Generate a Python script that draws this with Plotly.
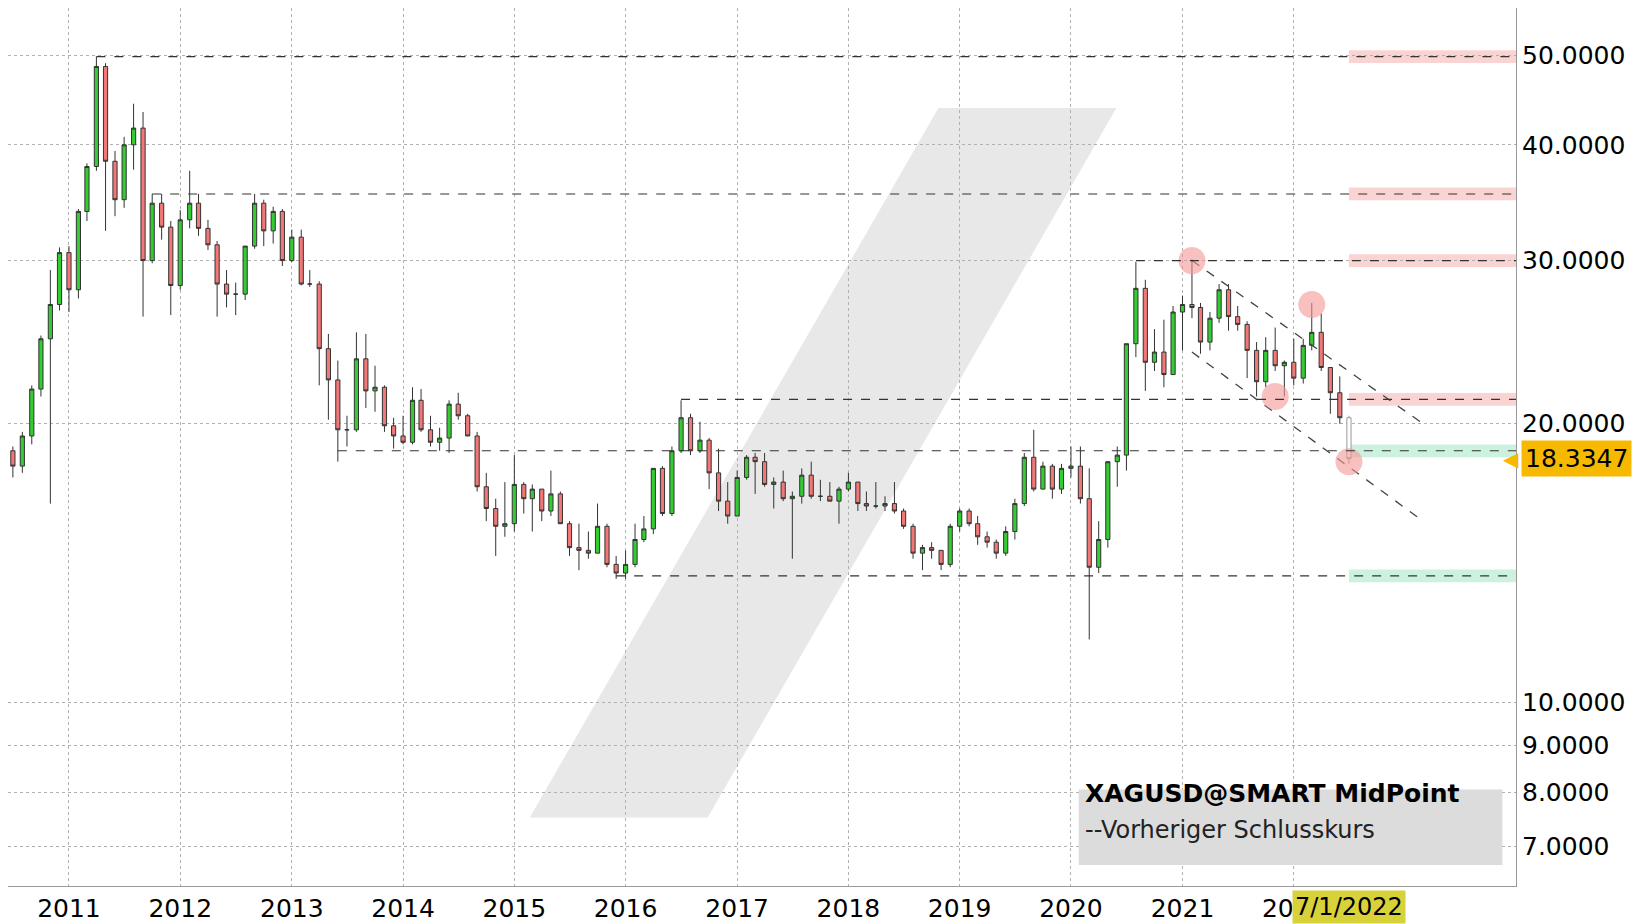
import numpy as np
import pandas as pd
import plotly.graph_objects as go

# monthly OHLC, XAGUSD, Jul 2010 .. Jul 2022
opens = [18.7, 18.0, 19.4, 21.8, 24.7, 26.9,
         30.6, 27.9, 33.9, 37.9, 48.6, 38.4, 34.9, 40.0, 41.7, 30.0, 34.6, 32.6,
         28.2, 33.2, 34.6, 32.5, 31.2, 28.3, 27.6, 27.6, 31.1, 34.6, 32.3, 33.9,
         30.0, 31.8, 28.3, 28.3, 24.1, 22.3, 19.7, 19.7, 23.5, 21.7, 21.9, 19.9,
         19.4, 19.1, 21.2, 19.7, 19.1, 19.3, 21.0, 20.4, 19.4, 17.1, 16.2, 15.5,
         15.6, 17.2, 16.6, 17.0, 16.1, 16.8, 15.6, 14.7, 14.6, 14.5, 15.5, 14.1,
         13.8, 14.1, 15.0, 15.4, 17.9, 16.0, 18.7, 20.3, 18.7, 19.2, 17.7, 16.5,
         15.9, 17.5, 18.4, 18.2, 17.2, 17.3, 16.6, 16.7, 17.6, 16.7, 16.7, 16.5,
         17.0, 17.3, 16.4, 16.3, 16.3, 16.4, 16.1, 15.5, 14.5, 14.7, 14.6, 14.1,
         15.5, 16.1, 15.6, 15.1, 14.9, 14.5, 15.3, 16.4, 18.4, 17.0, 18.0, 17.0,
         17.9, 18.0, 16.6, 14.0, 15.0, 18.2, 18.5, 24.4, 28.0, 23.3, 23.9, 22.6,
         26.4, 26.9, 26.7, 24.5, 26.0, 27.9, 26.1, 25.6, 24.0, 22.2, 24.0, 23.1,
         23.3, 22.4, 24.3, 25.1, 23.0, 21.6, 20.3]
highs = [18.9, 19.6, 22.0, 24.9, 29.3, 31.0,
         31.1, 34.1, 38.2, 49.8, 49.0, 39.4, 40.8, 44.3, 43.4, 35.4, 35.4, 33.1,
         34.0, 37.5, 35.4, 33.2, 31.5, 29.3, 28.4, 31.1, 35.4, 34.9, 34.3, 34.1,
         32.4, 32.4, 29.3, 28.5, 25.0, 23.4, 20.4, 25.1, 25.0, 23.1, 22.0, 20.3,
         20.4, 21.9, 21.8, 20.4, 19.8, 21.2, 21.6, 20.5, 19.6, 17.7, 16.6, 17.3,
         18.5, 17.3, 17.2, 17.0, 17.8, 16.9, 15.7, 15.6, 15.3, 16.4, 15.6, 14.4,
         14.6, 15.6, 15.9, 17.9, 18.0, 18.9, 21.2, 20.5, 20.1, 19.3, 18.8, 17.3,
         17.8, 18.5, 18.6, 18.6, 17.5, 17.8, 16.9, 17.9, 18.2, 17.4, 17.3, 17.1,
         17.7, 17.3, 16.9, 17.3, 16.7, 17.3, 16.2, 15.6, 14.8, 14.9, 14.6, 15.6,
         16.2, 16.2, 15.9, 15.3, 15.0, 15.5, 16.6, 18.6, 19.7, 18.2, 18.1, 18.1,
         18.9, 18.9, 17.9, 15.7, 18.2, 18.9, 24.4, 29.9, 28.6, 25.3, 25.9, 26.8,
         27.5, 30.1, 27.0, 26.4, 28.3, 28.3, 26.8, 25.8, 24.5, 24.8, 25.4, 23.4,
         24.7, 24.7, 27.0, 26.3, 23.0, 22.5, 20.4]
lows = [17.5, 17.7, 19.0, 21.4, 16.4, 26.5,
        26.4, 27.3, 33.1, 37.5, 32.3, 33.5, 34.2, 37.6, 26.1, 29.8, 31.6, 26.2,
        27.9, 32.5, 31.9, 30.8, 26.1, 26.7, 26.2, 27.2, 30.9, 31.1, 31.3, 29.6,
        29.9, 28.2, 28.1, 22.0, 20.2, 18.2, 18.9, 19.6, 20.8, 20.6, 19.6, 18.8,
        19.0, 19.0, 19.6, 18.9, 18.7, 18.6, 20.2, 19.4, 16.9, 15.7, 14.4, 15.1,
        15.3, 16.0, 15.3, 15.7, 15.9, 15.6, 14.4, 13.9, 14.3, 14.5, 14.0, 13.6,
        13.6, 14.0, 14.9, 15.2, 15.9, 15.9, 18.6, 18.5, 18.6, 17.0, 16.1, 15.6,
        15.9, 17.4, 16.8, 17.1, 16.2, 16.5, 14.3, 16.4, 16.6, 16.5, 16.5, 15.6,
        16.9, 16.1, 16.1, 16.2, 16.1, 16.0, 15.4, 14.3, 13.9, 14.3, 13.9, 14.0,
        15.3, 15.5, 14.8, 14.7, 14.3, 14.4, 15.0, 16.3, 16.9, 17.0, 16.6, 16.8,
        17.5, 16.4, 11.7, 13.8, 14.7, 17.1, 17.8, 23.6, 21.7, 22.8, 21.9, 22.6,
        24.0, 26.0, 23.8, 24.0, 25.7, 25.2, 25.2, 22.4, 21.4, 21.9, 22.8, 21.4,
        22.0, 22.1, 24.0, 22.8, 20.5, 20.0, 18.1]
closes = [18.0, 19.4, 21.8, 24.7, 26.9, 30.6,
          27.9, 33.9, 37.9, 48.6, 38.4, 34.9, 40.0, 41.7, 30.0, 34.6, 32.6, 28.2,
          33.2, 34.6, 32.5, 31.2, 28.3, 27.6, 27.6, 31.1, 34.6, 32.3, 33.9, 30.0,
          31.8, 28.3, 28.3, 24.1, 22.3, 19.7, 19.7, 23.5, 21.7, 21.9, 19.9, 19.4,
          19.1, 21.2, 19.7, 19.1, 19.3, 21.0, 20.4, 19.4, 17.1, 16.2, 15.5, 15.6,
          17.2, 16.6, 17.0, 16.1, 16.8, 15.6, 14.7, 14.6, 14.5, 15.5, 14.1, 13.8,
          14.1, 15.0, 15.4, 17.9, 16.0, 18.7, 20.3, 18.7, 19.2, 17.7, 16.5, 15.9,
          17.5, 18.4, 18.2, 17.2, 17.3, 16.6, 16.7, 17.6, 16.7, 16.7, 16.5, 17.0,
          17.3, 16.4, 16.3, 16.3, 16.4, 16.1, 15.5, 14.5, 14.7, 14.6, 14.1, 15.5,
          16.1, 15.6, 15.1, 14.9, 14.5, 15.3, 16.4, 18.4, 17.0, 18.0, 17.0, 17.9,
          18.0, 16.6, 14.0, 15.0, 18.2, 18.5, 24.4, 28.0, 23.3, 23.9, 22.6, 26.4,
          26.9, 26.7, 24.5, 26.0, 27.9, 26.1, 25.6, 24.0, 22.2, 24.0, 23.1, 23.3,
          22.4, 24.3, 25.1, 23.0, 21.6, 20.3, 18.3347]
dates = pd.date_range("2010-07-01", periods=len(closes), freq="MS")

# horizontal support / resistance levels: (start date, value)
level_starts = ["2011-04-01", "2011-10-01", "2020-08-01", "2016-07-01", "2013-06-01", "2015-12-01"]
level_values = [49.8, 35.4, 30.0, 21.25, 18.7, 13.7]
band_colors = ["red", "red", "red", "red", "green", "green"]

# descending channel
chan_dates = ["2021-02-01", "2023-03-01"]
chan_upper = [30.0, 20.0]
chan_lower = [23.9, 15.7]

# highlighted pivots
pivot_dates = ["2021-02-01", "2022-03-01", "2021-11-01", "2022-07-01"]
pivot_values = [30.0, 26.9, 21.4, 18.2]

y_ticks = [7, 8, 9, 10, 20, 30, 40, 50]
year_ticks = [f"{y}-01-01" for y in range(2011, 2023)]
year_labels = [str(y) for y in range(2011, 2023)]

X_END = "2023-12-31"
FONT = "DejaVu Sans"

fig = go.Figure()

fig.add_trace(go.Candlestick(
    x=dates[:-1], open=opens[:-1], high=highs[:-1], low=lows[:-1], close=closes[:-1],
    increasing=dict(fillcolor="#33cc33", line=dict(color="#333333", width=1)),
    decreasing=dict(fillcolor="#f27878", line=dict(color="#333333", width=1)),
    whiskerwidth=0, showlegend=False, hoverinfo="skip",
))
fig.add_trace(go.Candlestick(
    x=dates[-1:], open=opens[-1:], high=highs[-1:], low=lows[-1:], close=closes[-1:],
    increasing=dict(fillcolor="white", line=dict(color="#999999", width=1)),
    decreasing=dict(fillcolor="white", line=dict(color="#999999", width=1)),
    whiskerwidth=0, showlegend=False, hoverinfo="skip",
))

# channel lines
for vals in (chan_upper, chan_lower):
    fig.add_trace(go.Scatter(x=chan_dates, y=vals, mode="lines",
                             line=dict(color="#444444", width=1.3, dash="dash"),
                             showlegend=False, hoverinfo="skip"))

fig.add_trace(go.Scatter(x=pivot_dates, y=pivot_values, mode="markers",
                         marker=dict(size=27, color="rgba(245,150,150,0.6)"),
                         showlegend=False, hoverinfo="skip"))

shapes = []
# watermark
shapes.append(dict(type="path", xref="paper", yref="paper", layer="below",
                   path="M 0.346 0.078 L 0.617 0.886 L 0.735 0.886 L 0.464 0.078 Z",
                   fillcolor="#e8e8e8", line=dict(width=0)))
for start, val, col in zip(level_starts, level_values, band_colors):
    shapes.append(dict(type="line", xref="x", yref="y", x0=start, x1=X_END, y0=val, y1=val,
                       line=dict(color="#333333", width=1.2, dash="dash")))
    fill = "rgba(240,110,110,0.3)" if col == "red" else "rgba(90,210,150,0.3)"
    shapes.append(dict(type="rect", xref="x", yref="y", x0="2022-07-01", x1=X_END,
                       y0=val / 1.016, y1=val * 1.016, fillcolor=fill, line=dict(width=0), layer="below"))
# legend box
shapes.append(dict(type="rect", xref="paper", yref="paper", x0=0.71, x1=0.991, y0=0.024, y1=0.110,
                   fillcolor="#dcdcdc", line=dict(width=0)))

annotations = [
    dict(xref="paper", yref="paper", x=0.713, y=0.086, text="<b>XAGUSD@SMART MidPoint</b>",
         showarrow=False, xanchor="left", font=dict(family=FONT, size=25, color="black")),
    dict(xref="paper", yref="paper", x=0.713, y=0.045, text="--Vorheriger Schlusskurs",
         showarrow=False, xanchor="left", font=dict(family=FONT, size=24, color="#222222")),
    dict(xref="paper", yref="y", x=1.003, y=np.log10(closes[-1]), text=f"{closes[-1]:.4f}",
         showarrow=False, xanchor="left", bgcolor="#f7b900", borderpad=3,
         font=dict(family=FONT, size=25, color="black")),
    dict(xref="paper", yref="y", x=1.003, y=np.log10(closes[-1]), text="◀",
         showarrow=False, xanchor="right", font=dict(family=FONT, size=20, color="#f7b900")),
    dict(xref="x", yref="paper", x="2022-07-01", y=0, yshift=-4, text="7/1/2022", yanchor="top",
         showarrow=False, bgcolor="#d8d23a", borderpad=2,
         font=dict(family=FONT, size=24, color="black")),
]

fig.update_layout(
    width=1644, height=924,
    margin=dict(l=0, r=136, t=0, b=46),
    paper_bgcolor="white", plot_bgcolor="white",
    shapes=shapes, annotations=annotations,
    font=dict(family=FONT, size=25, color="black"),
    xaxis=dict(range=["2010-06-15", X_END], rangeslider=dict(visible=False),
               tickvals=year_ticks, ticktext=year_labels, ticks="",
               showgrid=True, gridcolor="#b0b0b0", griddash="dot", gridwidth=1,
               showline=True, linecolor="#999999", mirror=True,
               tickfont=dict(family=FONT, size=25)),
    yaxis=dict(type="log", side="right", range=[np.log10(6.34), np.log10(56.2)],
               tickvals=y_ticks, ticktext=[f"{v:.4f}" for v in y_ticks], ticks="",
               showgrid=True, gridcolor="#b0b0b0", griddash="dot", gridwidth=1,
               showline=True, linecolor="#999999", mirror=True, zeroline=False,
               tickfont=dict(family=FONT, size=25)),
)

fig.write_html("out.html")
